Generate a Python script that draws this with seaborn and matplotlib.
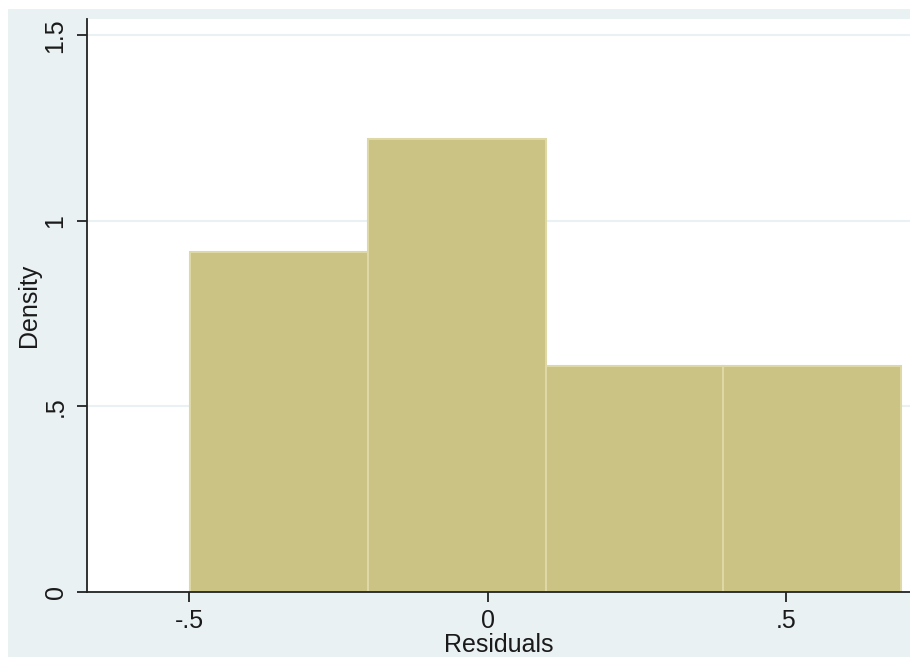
import numpy as np
import pandas as pd
import matplotlib
matplotlib.use("Agg")
import matplotlib.pyplot as plt
from matplotlib.patches import Rectangle
import seaborn as sns

# Histogram of regression residuals: bin edges and observation counts per bin
bin_edges = [-0.499, -0.201, 0.097, 0.395, 0.693]
bin_counts = [3, 4, 2, 2]
x_ticks = [-0.5, 0.0, 0.5]
x_tick_labels = ["-.5", "0", ".5"]
y_ticks = [0.0, 0.5, 1.0, 1.5]
y_tick_labels = ["0", ".5", "1", "1.5"]

bin_centers = [(a + b) / 2 for a, b in zip(bin_edges[:-1], bin_edges[1:])]
df = pd.DataFrame({"resid": bin_centers, "n": bin_counts})

sns.set_theme(style="white")
plt.rcParams["font.family"] = ["Liberation Sans", "DejaVu Sans"]

BG = "#EAF1F3"
BAR = "#CBC383"
EDGE = "#DDD8A6"
INK = "#1a1a1a"
FS = 18

W, H = 910, 657
fig = plt.figure(figsize=(W / 100, H / 100), dpi=100, facecolor="white")
fig.patches.append(Rectangle((8 / W, 0), 1, 1 - 9 / H, transform=fig.transFigure,
                             facecolor=BG, edgecolor="none", zorder=-10))

ax = fig.add_axes([87 / W, (H - 592) / H, (W - 87) / W, (592 - 19) / H])
ax.set_facecolor("white")

sns.histplot(data=df, x="resid", weights="n", bins=bin_edges, stat="density",
             color=BAR, alpha=1.0, edgecolor=EDGE, linewidth=1.5, ax=ax)

ax.set_xlim(-0.6715, 0.7077)
ax.set_ylim(0, 1.544)

for y in y_ticks[1:]:
    ax.axhline(y, color=BG, linewidth=1.5, zorder=0)

ax.set_xticks(x_ticks)
ax.set_xticklabels(x_tick_labels, fontsize=FS)
ax.set_yticks(y_ticks)
ax.set_yticklabels(y_tick_labels, fontsize=FS, rotation=90, va="center")

for side in ("top", "right"):
    ax.spines[side].set_visible(False)
for side in ("left", "bottom"):
    ax.spines[side].set_color("#222222")
    ax.spines[side].set_linewidth(1.3)

ax.tick_params(axis="both", direction="out", length=7, width=1.3, color="#222222",
               labelcolor=INK, bottom=True, left=True)
ax.tick_params(axis="x", pad=5)
ax.tick_params(axis="y", pad=7)

ax.set_xlabel("Residuals", fontsize=FS, color=INK, labelpad=0.5)
ax.set_ylabel("Density", fontsize=FS, color=INK, labelpad=2)

fig.savefig("out.png", dpi=100, facecolor="white")
